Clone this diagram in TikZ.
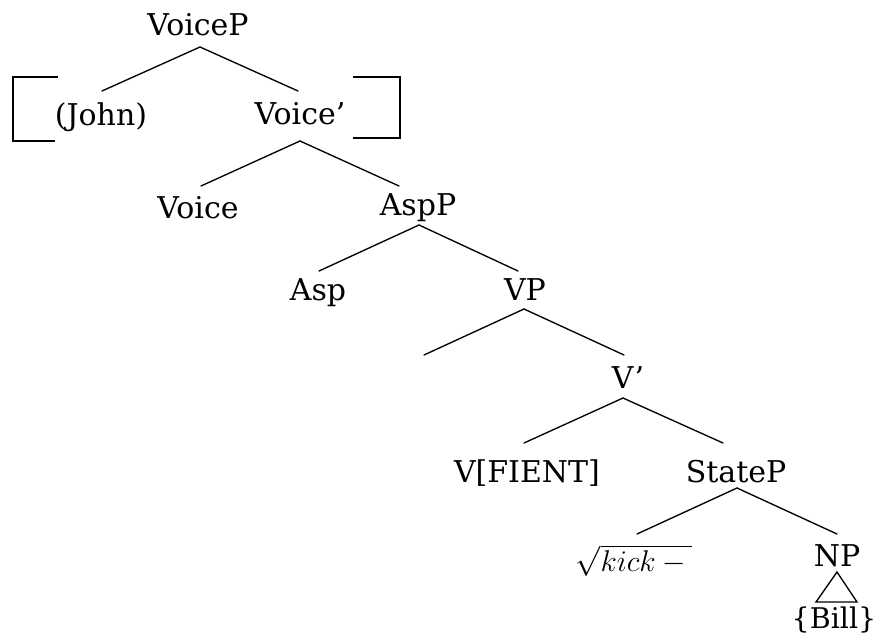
\documentclass[tikz,border=0pt]{standalone}
\usepackage{fix-cm}
\usepackage{fontspec}
\setmainfont{DejaVu Serif}
\usetikzlibrary{calc}
\begin{document}
\begin{tikzpicture}[x=1pt,y=-1pt,
  lbl/.style={anchor=base,inner sep=0pt,font=\fontsize{30}{36}\selectfont},
  branch/.style={line width=1.35pt,line cap=round},
]
\useasboundingbox (0,0) rectangle (880,638);

% labels of the tree
\node[lbl] (voiceP)  at (198,35)  {VoiceP};
\node[lbl] (john)    at (101,125) {(John)};
\node[lbl] (voiceB)  at (300,124) {Voice’};
\node[lbl] (voice)   at (198,218) {Voice};
\node[lbl] (aspP)    at (418,215) {AspP};
\node[lbl] (asp)     at (318,300) {Asp};
\node[lbl] (vP)      at (525,300) {VP};
\coordinate (vpL)    at (424,355);
\node[lbl] (vB)      at (628,388) {V’};
\node[lbl] (vfient)  at (527,482) {V[FIENT]};
\node[lbl] (stateP)  at (736,482) {StateP};
\node[lbl] (kick)    at (634,571) {$\sqrt{kick{}-{}}$};
\node[lbl] (nP)      at (837,566) {NP};
\node[lbl,font=\fontsize{28.5}{34}\selectfont] (bill) at (834,628) {\{Bill\}};

% branches
\draw[branch] ($(voiceP.base)+(2,12)$) -- ($(john.base)+(1,-34)$);
\draw[branch] ($(voiceP.base)+(2,12)$) -- ($(voiceB.base)+(-2,-33)$);
\draw[branch] ($(voiceB.base)+(0,17)$) -- ($(voice.base)+(3,-32)$);
\draw[branch] ($(voiceB.base)+(0,17)$) -- ($(aspP.base)+(-19,-29)$);
\draw[branch] ($(aspP.base)+(1,10)$) -- ($(asp.base)+(1,-29)$);
\draw[branch] ($(aspP.base)+(1,10)$) -- ($(vP.base)+(-7,-29)$);
\draw[branch] ($(vP.base)+(-1,9)$) -- (vpL);
\draw[branch] ($(vP.base)+(-1,9)$) -- ($(vB.base)+(-4,-33)$);
\draw[branch] ($(vB.base)+(-5,10)$) -- ($(vfient.base)+(-3,-39)$);
\draw[branch] ($(vB.base)+(-5,10)$) -- ($(stateP.base)+(-13,-39)$);
\draw[branch] ($(stateP.base)+(1,6)$) -- ($(kick.base)+(3,-37)$);
\draw[branch] ($(stateP.base)+(1,6)$) -- ($(nP.base)+(0,-32)$);

% triangle over the NP
\draw[branch,line join=miter] ($(nP.base)+(0,6)$) -- ++(-21,30) -- ++(41,0) -- cycle;

% brackets around the specifier and the bar level
\draw[branch,line cap=butt] ($(john.base)+(-43,-48)$) -- ++(-45,0) -- ++(0,64) -- ++(42,0);
\draw[branch,line cap=butt] ($(voiceB.base)+(53,-47)$) -- ++(47,0) -- ++(0,61) -- ++(-47,0);
\end{tikzpicture}
\end{document}
